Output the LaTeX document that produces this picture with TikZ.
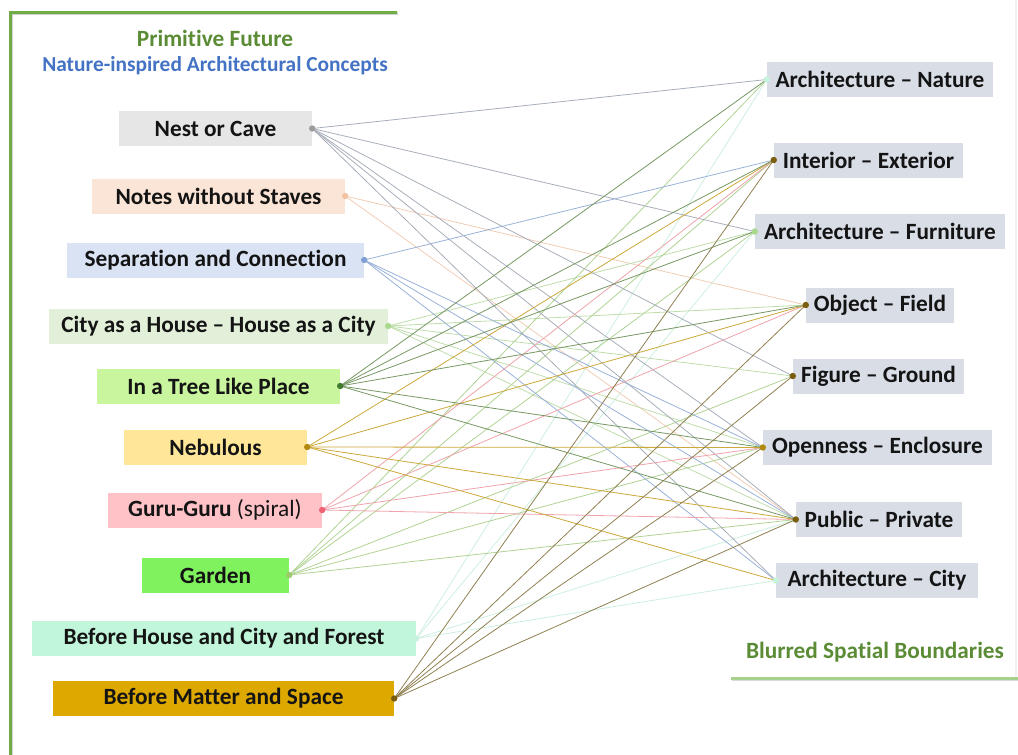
\documentclass[tikz,border=0pt]{standalone}
\usepackage{fontspec}
\setmainfont[Ligatures={TeX,NoCommon}]{Carlito}
\definecolor{fA}{HTML}{E7E6E6}
\definecolor{fB}{HTML}{FBE5D6}
\definecolor{fC}{HTML}{DAE3F3}
\definecolor{fD}{HTML}{E2F0D9}
\definecolor{fE}{HTML}{C9F59E}
\definecolor{fF}{HTML}{FFE699}
\definecolor{fG}{HTML}{FFC2C6}
\definecolor{fH}{HTML}{7FF25E}
\definecolor{fI}{HTML}{C2F6DA}
\definecolor{fJ}{HTML}{DDA800}
\definecolor{fR}{HTML}{D8DDE6}
\definecolor{cA}{HTML}{A8AEB9}
\definecolor{cB}{HTML}{F2CDB5}
\definecolor{cC}{HTML}{9AB1D8}
\definecolor{cD}{HTML}{BFDDAB}
\definecolor{cE}{HTML}{779763}
\definecolor{cF}{HTML}{CDA83A}
\definecolor{cG}{HTML}{EFA3AB}
\definecolor{cH}{HTML}{B0D394}
\definecolor{cI}{HTML}{CDEFE0}
\definecolor{cJ}{HTML}{8F8050}
\definecolor{dA}{HTML}{9C9C9C}
\definecolor{dB}{HTML}{F3C2A0}
\definecolor{dC}{HTML}{7F9FD6}
\definecolor{dD}{HTML}{A9D88E}
\definecolor{dE}{HTML}{3E7A2C}
\definecolor{dF}{HTML}{B38A10}
\definecolor{dG}{HTML}{F06070}
\definecolor{dH}{HTML}{9CCB6E}
\definecolor{dI}{HTML}{C6F2DE}
\definecolor{dJ}{HTML}{7A5E10}
\definecolor{titlegreen}{HTML}{5B8C35}
\definecolor{titleblue}{HTML}{4472C4}
\definecolor{framegreen}{HTML}{70AD47}
\definecolor{framelight}{HTML}{A9D18E}
\begin{document}
\begin{tikzpicture}[x=1pt,y=-1pt,
  lbox/.style={inner sep=0pt, minimum height=35pt, text=black!92,
    font=\fontsize{23.3}{26}\selectfont\bfseries},
  rbox/.style={lbox, fill=fR},
  titletext/.style={inner sep=0pt, font=\fontsize{23.3}{26}\selectfont\bfseries},
  link/.style={line width=0.8pt},
  frameline/.style={line width=3pt, line cap=rect}]
\useasboundingbox (0,0) rectangle (1018,755);
% frames
\draw[frameline, black!18] (11.5,757) -- (11.5,13.5) -- (396.5,13.5);
\draw[frameline, framegreen] (10,757) -- (10,12) -- (395,12);
\draw[line width=2pt, black!6] (1015.5,0) -- (1015.5,678);
\draw[frameline, black!15] (733.5,679.5) -- (1020,679.5);
\draw[frameline, framelight] (732,678) -- (1020,678);
% titles
\node[titletext, text=titlegreen] (t1) at (215,38) {Primitive Future};
\node[titletext, text=titleblue, font=\fontsize{21.4}{24}\selectfont\bfseries] (t2) at (215,66) {Nature-inspired Architectural Concepts};
\node[titletext, text=titlegreen] (t3) at (875,652) {Blurred Spatial Boundaries};
% left nodes
\node[lbox, fill=fA, minimum width=193pt] (L1) at (215.5,128.5) {Nest or Cave};
\node[lbox, fill=fB, minimum width=253pt] (L2) at (218.5,196) {Notes without Staves};
\node[lbox, fill=fC, minimum width=297pt] (L3) at (215.5,260) {Separation and Connection};
\node[lbox, fill=fD, minimum width=339pt] (L4) at (218.5,326) {City as a House -- House as a City};
\node[lbox, fill=fE, minimum width=243pt] (L5) at (218.5,386) {In a Tree Like Place};
\node[lbox, fill=fF, minimum width=183pt] (L6) at (215.5,447) {Nebulous};
\node[lbox, fill=fG, minimum width=214pt] (L7) at (215,510) {Guru-Guru \mdseries(spiral)};
\node[lbox, fill=fH, minimum width=147pt] (L8) at (215.5,575) {Garden};
\node[lbox, fill=fI, minimum width=384pt] (L9) at (224,638.5) {Before House and City and Forest};
\node[lbox, fill=fJ, minimum width=341pt] (L10) at (223.5,698.5) {Before Matter and Space};
% right nodes
\node[rbox, minimum width=226pt] (R1) at (880,79.5) {Architecture -- Nature};
\node[rbox, minimum width=189pt] (R2) at (868.5,160) {Interior -- Exterior};
\node[rbox, minimum width=250pt] (R3) at (880,231.5) {Architecture -- Furniture};
\node[rbox, minimum width=148pt] (R4) at (880,305) {Object -- Field};
\node[rbox, minimum width=171pt] (R5) at (878.5,376) {Figure -- Ground};
\node[rbox, minimum width=229pt] (R6) at (877.5,447.5) {Openness -- Enclosure};
\node[rbox, minimum width=166pt] (R7) at (879,519.5) {Public -- Private};
\node[rbox, minimum width=202pt] (R8) at (877,580.5) {Architecture -- City};
% connectors
\foreach \s/\c/\t in {
  L9/cI/{R1,R3,R7,R8},
  L2/cB/{R4,R7},
  L4/cD/{R3,R4,R5,R6,R7},
  L8/cH/{R1,R2,R3,R5,R6,R7},
  L1/cA/{R1,R3,R5,R6,R7,R8},
  L3/cC/{R2,R6,R7,R8},
  L7/cG/{R2,R4,R6,R7},
  L6/cF/{R2,R4,R6,R7,R8},
  L5/cE/{R1,R2,R3,R4,R6,R7},
  L10/cJ/{R2,R4,R5,R6,R7}}{
  \foreach \r in \t { \draw[link, \c] (\s.east) -- (\r.west); }
}
% dots
\foreach \n/\d in {L1/dA,L2/dB,L3/dC,L4/dD,L5/dE,L6/dF,L7/dG,L8/dH,L9/dI,L10/dJ}{
  \fill[\d] (\n.east) circle (3.2pt);
}
\foreach \n/\d in {R1/dI,R2/dJ,R3/dD,R4/dJ,R5/dJ,R6/dF,R7/dJ,R8/dI}{
  \fill[\d] (\n.west) circle (3.2pt);
}
\end{tikzpicture}
\end{document}
